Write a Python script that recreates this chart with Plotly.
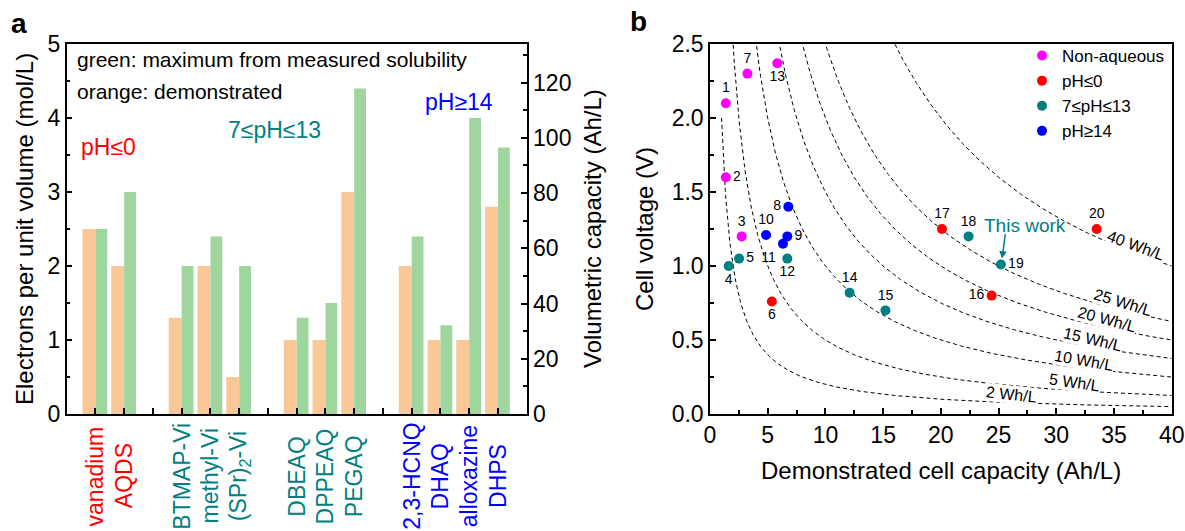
import numpy as np
import plotly.graph_objects as go

FONT = "Liberation Sans, Arial, sans-serif"
RED, TEAL, BLUE, MAGENTA = "#FF0000", "#008080", "#0000FF", "#FF00FF"
ORANGE_BAR, GREEN_BAR = "#FAC896", "#9ED69E"

# ---------------- Panel a data ----------------
clusters = [
    ["vanadium", "AQDS"],
    ["BTMAP-Vi", "methyl-Vi", "(SPr)<sub>2</sub>-Vi"],
    ["DBEAQ", "DPPEAQ", "PEGAQ"],
    ["2,3-HCNQ", "DHAQ", "alloxazine", "DHPS"],
]
cluster_colors = [RED, TEAL, TEAL, BLUE]
demonstrated = [2.5, 2.0, 1.3, 2.0, 0.5, 1.0, 1.0, 3.0, 2.0, 1.0, 1.0, 2.8]
max_solubility = [2.5, 3.0, 2.0, 2.4, 2.0, 1.3, 1.5, 4.4, 2.4, 1.2, 4.0, 3.6]
AH_PER_MOL = 26.8  # Ah per mol of electrons

# ---------------- Panel b data ----------------
point_ids = list(range(1, 21))
capacity = [1.37, 1.37, 2.74, 1.62, 2.52, 5.36, 3.24, 6.79, 6.70, 4.86,
            6.32, 6.70, 5.83, 12.1, 15.2, 24.4, 20.1, 22.4, 25.2, 33.5]
voltage = [2.10, 1.60, 1.20, 1.00, 1.05, 0.76, 2.30, 1.40, 1.20, 1.21,
           1.15, 1.05, 2.37, 0.82, 0.70, 0.80, 1.25, 1.20, 1.01, 1.25]
point_class = ["Non-aqueous", "Non-aqueous", "Non-aqueous", "7≤pH≤13", "7≤pH≤13",
               "pH≤0", "Non-aqueous", "pH≥14", "pH≥14", "pH≥14",
               "pH≥14", "7≤pH≤13", "Non-aqueous", "7≤pH≤13", "7≤pH≤13",
               "pH≤0", "pH≤0", "7≤pH≤13", "7≤pH≤13", "pH≤0"]
label_pos = ["top center", "middle right", "top center", "bottom center", "middle right",
             "bottom center", "top center", "middle left", "middle right", "top center",
             "bottom left", "bottom center", "bottom center", "top center", "top center",
             "middle left", "top center", "top center", "middle right", "top center"]
classes = ["Non-aqueous", "pH≤0", "7≤pH≤13", "pH≥14"]
class_colors = [MAGENTA, RED, TEAL, BLUE]
energy_levels = [2, 5, 10, 15, 20, 25, 40]
# label placement along each iso-energy curve: (capacity, angle)
energy_label_x = [26.1, 31.6, 32.4, 33.2, 34.4, 35.8, 36.9]
energy_label_angle = [6, 8, 10, 13, 15, 17, 20]

# positions of categories (one empty slot between clusters)
positions, cat_names, cat_colors = [], [], []
p = 0
for ci, cl in enumerate(clusters):
    for name in cl:
        p += 1
        positions.append(p)
        cat_names.append(name)
        cat_colors.append(cluster_colors[ci])
    p += 1
tickvals = list(range(1, p))

fig = go.Figure()

fig.add_trace(go.Bar(x=positions, y=demonstrated, width=0.45, offset=-0.45,
                     marker=dict(color=ORANGE_BAR, line=dict(width=0)),
                     xaxis="x", yaxis="y", showlegend=False, name="demonstrated"))
fig.add_trace(go.Bar(x=positions, y=max_solubility, width=0.41, offset=0.0,
                     marker=dict(color=GREEN_BAR, line=dict(width=0)),
                     xaxis="x", yaxis="y", showlegend=False, name="max"))
# right axis (volumetric capacity) invisible companion trace
fig.add_trace(go.Scatter(x=positions, y=[v * AH_PER_MOL for v in max_solubility],
                         mode="markers", marker=dict(opacity=0), xaxis="x", yaxis="y2",
                         showlegend=False, hoverinfo="skip"))

# iso-energy curves
xc = np.linspace(1, 40, 600)
for E in energy_levels:
    fig.add_trace(go.Scatter(x=xc, y=E / xc, mode="lines",
                             line=dict(color="black", width=1, dash="4px,3px"),
                             xaxis="x2", yaxis="y3", showlegend=False, hoverinfo="skip"))

for cname, ccol in zip(classes, class_colors):
    idx = [i for i, c in enumerate(point_class) if c == cname]
    fig.add_trace(go.Scatter(
        x=[capacity[i] for i in idx], y=[voltage[i] for i in idx],
        text=[str(point_ids[i]) for i in idx],
        textposition=[label_pos[i] for i in idx],
        mode="markers+text", name=cname, cliponaxis=False,
        marker=dict(color=ccol, size=10),
        textfont=dict(size=14, color="black", family=FONT),
        xaxis="x2", yaxis="y3"))

ax_common = dict(showline=True, linecolor="black", linewidth=1.5, ticks="inside",
                 tickcolor="black", tickwidth=1.5, ticklen=6, showgrid=False,
                 zeroline=False, automargin=False,
                 tickfont=dict(size=23, color="black", family=FONT))
minor_common = dict(ticks="inside", ticklen=4, tickcolor="black", tickwidth=1.5, showgrid=False)

ydom = [1 - 414 / 531, 1 - 44 / 531]
fig.update_layout(
    width=1185, height=531, margin=dict(l=0, r=0, t=0, b=0),
    paper_bgcolor="white", plot_bgcolor="white",
    font=dict(family=FONT, color="black"),
    barmode="overlay",
    xaxis=dict(domain=[66.7 / 1185, 526.7 / 1185], range=[0, 16], tickmode="array",
               tickvals=tickvals, showticklabels=False, mirror=True,
               anchor="y", **ax_common),
    yaxis=dict(domain=ydom, range=[0, 5], dtick=1, anchor="x", mirror=False,
               minor=dict(dtick=0.5, **minor_common), **ax_common),
    yaxis2=dict(overlaying="y", side="right", anchor="x", range=[0, 5 * AH_PER_MOL],
                dtick=20, minor=dict(dtick=10, **minor_common), **ax_common),
    xaxis2=dict(domain=[710 / 1185, 1171.7 / 1185], range=[0, 40], dtick=5, anchor="y3",
                mirror=True, minor=dict(dtick=2.5, **minor_common), **ax_common),
    yaxis3=dict(domain=ydom, range=[0, 2.5], dtick=0.5, tickformat=".1f", anchor="x2",
                mirror=True, minor=dict(dtick=0.25, **minor_common), **ax_common),
    legend=dict(x=1022 / 1185, y=1 - 38 / 531, xanchor="left", yanchor="top",
                font=dict(size=17, family=FONT), bgcolor="rgba(0,0,0,0)",
                tracegroupgap=0),
)

ann = []
def paper_text(text, x, y, size, angle=0, bold=False, color="black", xanchor="center"):
    ann.append(dict(text=f"<b>{text}</b>" if bold else text, x=x / 1185, y=1 - y / 531,
                    xref="paper", yref="paper", showarrow=False, textangle=angle,
                    xanchor=xanchor, yanchor="middle",
                    font=dict(size=size, color=color, family=FONT)))

paper_text("a", 19, 23, 28, bold=True)
paper_text("b", 638, 22, 28, bold=True)
paper_text("Electrons per unit volume (mol/L)", 24, 229, 24, angle=-90)
paper_text("Volumetric capacity (Ah/L)", 592, 229, 24, angle=-90)
paper_text("Cell voltage (V)", 644, 229, 24, angle=-90)
paper_text("Demonstrated cell capacity (Ah/L)", 941, 470, 24)
paper_text("green: maximum from measured solubility", 75, 60, 21, xanchor="left")
paper_text("orange: demonstrated", 75, 91, 21, xanchor="left")
paper_text("pH≤0", 108, 147, 23, color=RED)
paper_text("7≤pH≤13", 274.5, 130, 23, color=TEAL)
paper_text("pH≥14", 458.7, 102, 23, color=BLUE)

# category labels (rotated, centred below each bar pair)
for pos, name, col in zip(positions, cat_names, cat_colors):
    ann.append(dict(text=name, x=pos, y=1 - 476 / 531, xref="x", yref="paper",
                    showarrow=False, textangle=-90, xanchor="center", yanchor="middle",
                    font=dict(size=23, color=col, family=FONT)))

for E, lx, ang in zip(energy_levels, energy_label_x, energy_label_angle):
    ann.append(dict(text=f"{E} Wh/L", x=lx, y=E / lx, xref="x2", yref="y3",
                    showarrow=False, textangle=ang, yshift=8, bgcolor="white", borderpad=0,
                    font=dict(size=16, color="black", family=FONT)))

ann.append(dict(text="This work", x=27.3, y=1.277, xref="x2", yref="y3", showarrow=False,
                font=dict(size=19, color=TEAL, family=FONT)))
ann.append(dict(text="", x=25.3, y=1.05, ax=25.6, ay=1.225, xref="x2", yref="y3",
                axref="x2", ayref="y3", showarrow=True, arrowhead=2, arrowsize=1,
                arrowwidth=1.5, arrowcolor=TEAL))

fig.update_layout(annotations=ann)
fig.write_html("out.html", config={"displayModeBar": False},
               post_script="document.body.style.margin='0px';document.body.style.overflow='hidden';")
